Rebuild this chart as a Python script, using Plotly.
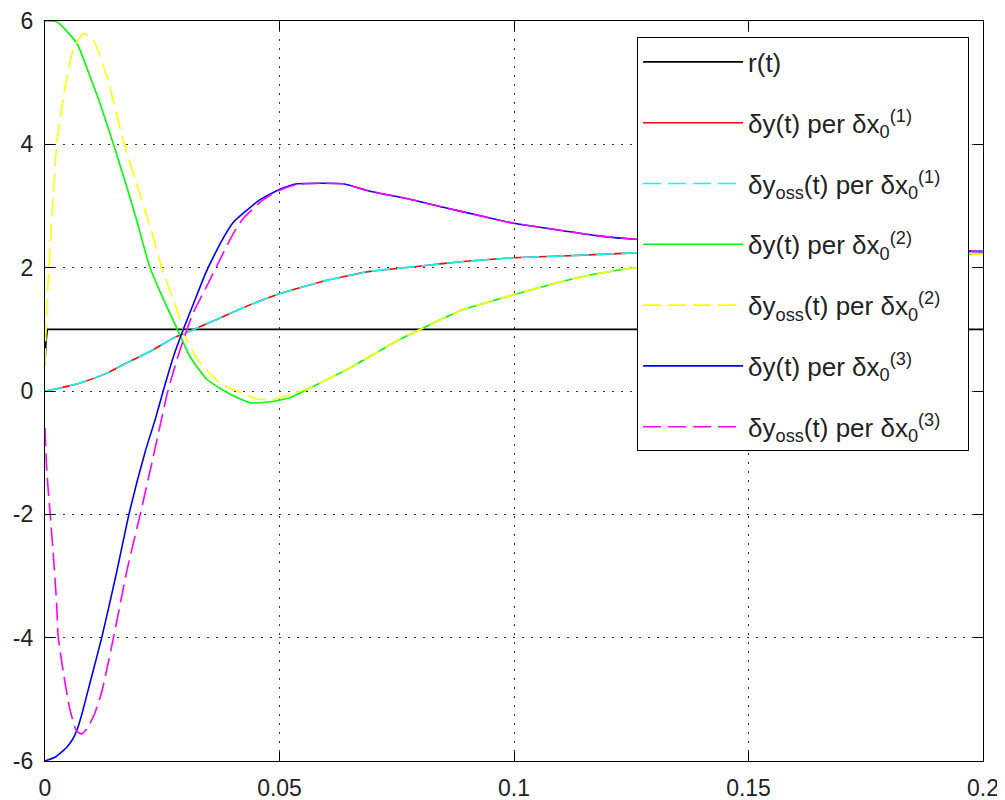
import plotly.graph_objects as go

# ---- data ----
t_r = [0.0, 0.0002, 0.0005, 0.2]
r_vals = [0.43, 0.78, 1.0, 1.0]

t_1 = [0, 0.0032, 0.0075, 0.0132, 0.0181, 0.0231, 0.0274, 0.0309, 0.0366, 0.0416, 0.0494,
       0.0593, 0.0693, 0.0793, 0.0892, 0.0999, 0.1105, 0.1258, 0.145, 0.165, 0.185, 0.2]
dy_1 = [0, 0.05, 0.13, 0.29, 0.48, 0.67, 0.86, 0.97, 1.16, 1.33, 1.56,
        1.78, 1.94, 2.02, 2.10, 2.16, 2.19, 2.24, 2.26, 2.27, 2.27, 2.27]
dyoss_1 = [0, 0.05, 0.13, 0.29, 0.48, 0.67, 0.86, 0.97, 1.16, 1.33, 1.56,
           1.78, 1.94, 2.02, 2.10, 2.16, 2.19, 2.24, 2.26, 2.27, 2.27, 2.27]

t_2 = [0, 0.0025, 0.0068, 0.0096, 0.0117, 0.0146, 0.0174, 0.0195, 0.0224, 0.0256, 0.0281,
       0.0309, 0.0345, 0.0394, 0.0437, 0.0480, 0.0522, 0.0565, 0.0629, 0.0693, 0.0750,
       0.0814, 0.0892, 0.0999, 0.1105, 0.1176, 0.1258, 0.145, 0.165, 0.185, 0.2]
dy_2 = [6.0, 5.99, 5.64, 5.10, 4.67, 4.0, 3.32, 2.78, 2.00, 1.43, 1.02,
        0.56, 0.19, -0.05, -0.19, -0.175, -0.11, 0.05, 0.29, 0.56, 0.81,
        1.05, 1.32, 1.56, 1.78, 1.90, 2.00, 2.10, 2.16, 2.20, 2.22]

t_3 = [0, 0.00036, 0.00085, 0.0016, 0.0025, 0.0043, 0.0060, 0.0082, 0.0103, 0.0132, 0.0169,
       0.0195, 0.0224, 0.0249, 0.0281, 0.0302, 0.0330, 0.0373, 0.0409, 0.0451, 0.0487,
       0.0537, 0.0565, 0.0629, 0.0693, 0.0750, 0.0814, 0.0892, 0.0999, 0.1105, 0.1176,
       0.1258, 0.145, 0.165, 0.185, 0.2]
dyoss_2 = [0.4, 1.32, 2.0, 3.0, 4.0, 4.94, 5.53, 5.80, 5.69, 5.10, 4.0,
           3.37, 2.67, 2.0, 1.32, 0.83, 0.46, 0.13, 0.0, -0.13, -0.14,
           -0.02, 0.05, 0.29, 0.56, 0.81, 1.05, 1.32, 1.56, 1.78, 1.90,
           2.00, 2.10, 2.16, 2.20, 2.22]

t_4 = [0, 0.0021, 0.0046, 0.0058, 0.0069, 0.0080, 0.0096, 0.0121, 0.0151, 0.0179, 0.0213,
       0.0235, 0.0252, 0.0274, 0.0295, 0.0323, 0.0343, 0.0362, 0.0380, 0.0402, 0.0458,
       0.0501, 0.0537, 0.0593, 0.0636, 0.0693, 0.0778, 0.0849, 0.0935, 0.0999, 0.1105,
       0.1176, 0.1258, 0.145, 0.165, 0.185, 0.2]
dy_3 = [-6.0, -5.94, -5.78, -5.66, -5.48, -5.20, -4.73, -4.0, -3.0, -2.0, -1.0,
        -0.46, 0.0, 0.56, 1.0, 1.54, 1.92, 2.22, 2.48, 2.74, 3.10,
        3.27, 3.36, 3.37, 3.36, 3.24, 3.11, 2.98, 2.83, 2.72, 2.60,
        2.52, 2.46, 2.37, 2.31, 2.28, 2.26]

t_5 = [0, 0.00036, 0.0011, 0.0018, 0.0025, 0.0028, 0.0039, 0.0053, 0.0067, 0.0078, 0.0090,
       0.0105, 0.0121, 0.0146, 0.0175, 0.0203, 0.0231, 0.0262, 0.0288, 0.0316, 0.0345,
       0.0373, 0.0402, 0.0423, 0.0465, 0.0501, 0.0537, 0.0593, 0.0636, 0.0693, 0.0778,
       0.0849, 0.0935, 0.0999, 0.1105, 0.1176, 0.1258, 0.145, 0.165, 0.185, 0.2]
dyoss_3 = [-0.6, -1.27, -2.0, -2.68, -3.48, -3.97, -4.56, -5.16, -5.51, -5.56, -5.47,
           -5.25, -4.88, -4.0, -2.9, -2.0, -1.06, 0.0, 0.67, 1.27, 1.70,
           2.13, 2.56, 2.80, 3.10, 3.26, 3.35, 3.37, 3.36, 3.24, 3.11,
           2.98, 2.83, 2.72, 2.60, 2.52, 2.46, 2.37, 2.31, 2.28, 2.26]

x_ticks = [0, 0.05, 0.1, 0.15, 0.2]
x_labels = ["0", "0.05", "0.1", "0.15", "0.2"]
y_ticks = [-6, -4, -2, 0, 2, 4, 6]
y_labels = ["-6", "-4", "-2", "0", "2", "4", "6"]

PAD = "\u00a0\u00a0\u00a0"
names = [
    "r(t)",
    "δy(t) per δx<sub>0</sub><sup>(1)</sup>",
    "δy<sub>oss</sub>(t) per δx<sub>0</sub><sup>(1)</sup>" + PAD,
    "δy(t) per δx<sub>0</sub><sup>(2)</sup>",
    "δy<sub>oss</sub>(t) per δx<sub>0</sub><sup>(2)</sup>" + PAD,
    "δy(t) per δx<sub>0</sub><sup>(3)</sup>",
    "δy<sub>oss</sub>(t) per δx<sub>0</sub><sup>(3)</sup>" + PAD,
]

DASH = "18px,7px"
series = [
    (t_r, r_vals, "#000000", "solid", "linear"),
    (t_1, dy_1, "#ff0000", "solid", "spline"),
    (t_1, dyoss_1, "#00ffff", DASH, "spline"),
    (t_2, dy_2, "#00ff00", "solid", "spline"),
    (t_3, dyoss_2, "#ffff00", DASH, "spline"),
    (t_4, dy_3, "#0000ff", "solid", "spline"),
    (t_5, dyoss_3, "#ff00ff", DASH, "spline"),
]

fig = go.Figure()
for i, (xs, ys, col, dash, shp) in enumerate(series):
    fig.add_trace(go.Scatter(
        x=xs, y=ys, mode="lines", name=names[i], legendgroup=f"g{i}",
        line=dict(color=col, width=1.6, dash=dash, shape=shp, smoothing=0.5),
    ))

axis_common = dict(
    ticks="inside", ticklen=9, tickwidth=1, tickcolor="#000",
    showline=True, linecolor="#000", linewidth=1.2, mirror="ticks",
    showgrid=True, gridcolor="#333", gridwidth=1, griddash="2px,7px",
    zeroline=False, tickfont=dict(size=23, color="#222"), automargin=False,
)

fig.update_xaxes(range=[0, 0.2], tickvals=x_ticks, ticktext=x_labels,
                 ticklabelstandoff=6, **axis_common)
fig.update_yaxes(range=[-6, 6], tickvals=y_ticks, ticktext=y_labels,
                 ticklabelstandoff=6, **axis_common)

# the page adds an 8px body margin, so margins are offset by 8px
fig.update_layout(
    width=1005, height=800,
    margin=dict(l=37, r=30, t=13, b=47),
    paper_bgcolor="white", plot_bgcolor="white",
    font=dict(family="Liberation Sans, Arial, sans-serif", size=26, color="#222"),
    legend=dict(
        x=0.631, y=0.978, xanchor="left", yanchor="top",
        bgcolor="white", bordercolor="#000", borderwidth=1.2,
        font=dict(size=26, color="#222"),
        tracegroupgap=24, itemwidth=100,
    ),
)

fig.write_html("out.html")
